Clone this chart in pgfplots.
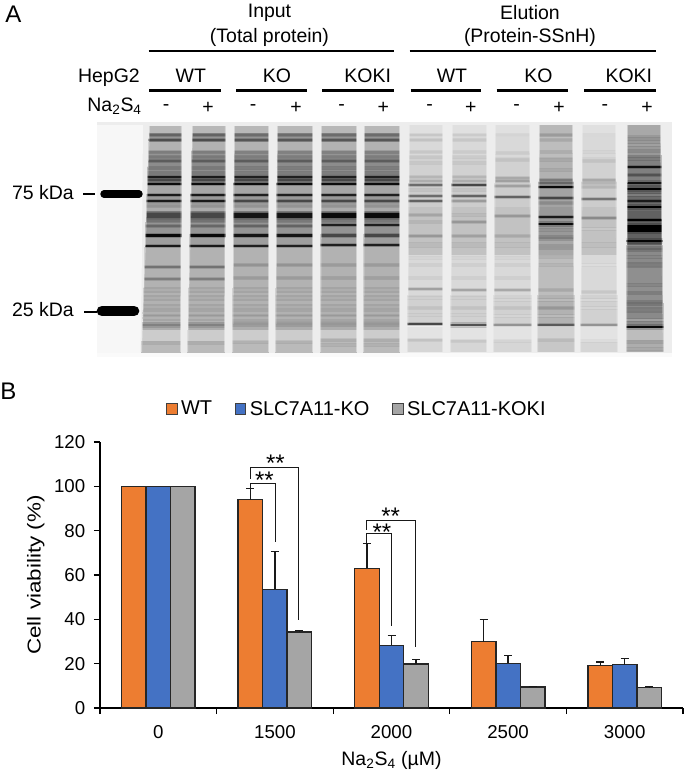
\documentclass[border=0pt]{standalone}
\usepackage{graphicx}
\usepackage{pgfplots}
\pgfplotsset{compat=1.18}
\usepackage{fontspec}
\setmainfont{Liberation Sans}
\definecolor{orgb}{HTML}{ED7D31}
\definecolor{blub}{HTML}{4472C4}
\definecolor{gryb}{HTML}{A5A5A5}
\newcommand\fs[1]{\fontsize{#1}{#1}\selectfont}
% --- lane background: lane edges at the top and at the bottom of the gel, then y/level/width
\newcommand\bgs[5]{%
 \foreach \yy/\lv/\ww in #5{%
  \pgfmathsetmacro\xl{#1+(#2-#1)*(\yy-125)/227}%
  \pgfmathsetmacro\xr{#3+(#4-#3)*(\yy-125)/227}%
  \pgfmathsetmacro\wp{\ww*0.75}%
  \edef\tmp{\noexpand\addplot[forget plot,no marks,line cap=butt,draw=black!\lv,line width=\wp pt] coordinates {(\xl,\yy)(\xr,\yy)};}\tmp
 }}
% --- bands: a soft halo and the band itself
\newcommand\bands[5]{%
 \foreach \yy/\lv/\ww in #5{%
  \pgfmathsetmacro\xl{#1+(#2-#1)*(\yy-125)/227}%
  \pgfmathsetmacro\xr{#3+(#4-#3)*(\yy-125)/227}%
  \pgfmathsetmacro\wp{\ww*0.75*0.85}%
  \pgfmathsetmacro\wh{(\ww+2.2)*0.75}%
  \pgfmathsetmacro\op{\lv/100*0.2}%
  \pgfmathsetmacro\lw{\lv<88?\lv*0.85:\lv}%
  \edef\tmp{\noexpand\addplot[forget plot,no marks,line cap=butt,draw=black,draw opacity=\op,line width=\wh pt] coordinates {(\xl,\yy)(\xr,\yy)};
   \noexpand\addplot[forget plot,no marks,line cap=butt,draw=black!\lw,line width=\wp pt] coordinates {(\xl,\yy)(\xr,\yy)};}\tmp
 }}
\newcommand\lane[6]{\bgs{#1}{#2}{#3}{#4}{#5}\bands{#1}{#2}{#3}{#4}{#6}%
 \edef\tmp{\noexpand\addplot[forget plot,no marks,line cap=butt,draw=black!7,draw opacity=0.55,line width=1.5pt] coordinates {(#1,125)(#2,352)};
 \noexpand\addplot[forget plot,no marks,line cap=butt,draw=black!7,draw opacity=0.55,line width=1.5pt] coordinates {(#3,125)(#4,352)};}\tmp}
\def\inbg{129.5/28/8,137/42/9,146/30/9,155/42/9,163/45/9,171/45/9,180/48/10,189/35/9,199/40/11,207.5/33/7,216.5/52/12,228/42/12,241/38/14,256/30/18,277/30/25,305/30/35,326/32/9,335.5/20/11,346.5/27/12}
\def\inA{135/72/1.6,140/82/1.8,152/60/1.5,157/62/1.5,161/75/1.5,168/62/1.5,173/62/1.5,177/90/2,180/85/1.5,184/95/1.8,195/90/1.8,201/90/1.8,206/50/1.5,215.5/85/5,221/65/1.5,226/70/1.5,235.5/97/3.5,246/90/2.5,267/65/1.8,279/60/1.8,290/38/3,298/38/3,307/38/3,313/36/3,318/36/3,325/58/3,343/38/2}
\def\inB{135/68/1.6,140/78/1.8,152/58/1.5,157/60/1.5,161/75/1.5,168/60/1.5,173/60/1.5,177/88/2,180/85/1.5,184/95/1.8,195/88/1.8,201/85/1.8,206/50/1.5,215.5/92/5,221/62/1.5,226/72/1.5,235.5/92/3,246/88/2.5,265/50/1.8,278/46/1.8,290/38/3,298/38/3,307/38/3,313/36/3,318/36/3,324/48/3,342/36/2}
\def\inC{135/68/1.6,140/78/1.8,152/58/1.5,157/60/1.5,161/75/1.5,168/60/1.5,173/60/1.5,177/88/2,180/85/1.5,184/95/1.8,195/88/1.8,201/85/1.8,206/50/1.5,215.5/96/5,221/62/1.5,225/88/2,235.5/85/3.5,245/88/2.5,265/46/1.8,278/44/1.8,290/38/3,298/38/3,307/38/3,313/36/3,318/36/3,324/48/3,340/38/2,345/36/2}
\def\elbgA{131/12/12,147/15/20,170/18/26,195/20/24,222/24/30,246/24/18,275/15/40,310/18/30,335/11/16,346/16/12}
\def\elbgB{131/28/12,147/26/20,170/30/26,195/36/24,222/40/30,246/34/18,275/26/40,310/30/30,335/18/16,346/22/12}
\def\elbgC{130/34/10,145/40/20,170/50/30,198/58/26,228/62/34,256/46/22,285/44/36,318/46/30,335/26/14,346/32/12}
\def\laneG{135/26/1.3,140/28/1.3,152/26/1.3,157/26/1.3,163/26/1.3,177/34/1.5,181/38/1.5,185/68/1.6,190/28/1.5,196/68/1.6,201/72/2,215/42/1.5,222/34/1.5,236/48/2.5,245/32/4,258/20/1.5,265/22/1.5,278/22/1.5,289/44/1.6,298/22/2,308/28/2,315/22/2,324/85/2.5,340/28/2}
\def\laneH{135/24/1.3,140/26/1.3,152/24/1.3,157/24/1.3,163/26/1.3,177/34/1.5,181/38/1.5,185/85/2,190/28/1.5,196/72/1.6,201/46/2,215/32/1.5,222/48/2,236/44/2.5,245/32/4,258/20/1.5,265/22/1.5,278/22/1.5,290/42/1.6,298/22/2,308/28/2,315/22/2,325/80/3,341/26/2}
\def\laneI{135/20/1.3,153/24/1.3,160/28/1.3,178/40/1.5,181/44/1.5,186/44/1.5,197/72/1.6,216/48/1.5,236/40/2.5,245/30/4,258/20/1.5,265/22/1.5,278/22/1.5,290/40/1.6,300/20/2,308/28/2,316/20/2,325/50/2,341/20/2}
\def\laneJ{135/46/1.3,140/40/1.3,152/38/1.3,160/40/1.3,170/40/1.5,180/62/1.5,183/70/1.5,187/96/2.5,198/86/2,203/54/1.5,217/90/2.5,224/96/3,230/50/1.5,238/60/3.5,247/48/3,257/36/2,265/34/2,290/40/1.6,300/32/2,308/48/2,316/32/2,325/76/2.5,340/32/2}
\def\laneK{135/18/1.2,152/20/1.2,161/28/1.3,180/40/1.5,183/34/1.5,187/34/1.5,199/64/1.6,218/54/1.5,229/26/1.5,245/30/4,265/16/1.5,292/26/1.5,300/18/2,308/20/2,325/50/2,341/16/2}
\def\laneL{139/50/1.5,145/44/1.5,151/54/1.5,159/60/1.5,167/94/2,175/80/1.5,183/94/3,189/100/3,195/60/1.5,201/90/2,207/100/3.5,220/100/2.5,228.5/100/8,241/98/3,249/70/3,257/56/2,265/60/3,285/56/2,293/60/2,303/66/3,310/60/3,320/44/2,327/96/3,342/44/2,349/40/2}
\begin{document}
\begin{tikzpicture}
\useasboundingbox (0,0) rectangle (513.75pt,579pt);
% ============ panel A, and all the free text, in the pixels of the reference
\begin{axis}[at={(0,0)},anchor=south west,scale only axis,width=513.75pt,height=579pt,
  hide axis,clip=false,xmin=0,xmax=685,ymin=0,ymax=772,y dir=reverse]
\addplot[forget plot,fill=black!7,draw=none] coordinates {(97,122)(672,122)(672,353)(97,353)} -- cycle;
\addplot[forget plot,fill=black!3,draw=none] coordinates {(97,125)(143,125)(141,353)(97,353)} -- cycle;
\addplot[forget plot,fill=black!2,draw=none] coordinates {(97,353)(672,353)(672,357)(97,357)} -- cycle;
% lanes
\lane{149}{141}{182}{181}{\inbg}{\inA}
\lane{192}{187}{226}{225}{\inbg}{\inA}
\lane{234}{232}{269}{269}{\inbg}{\inB}
\lane{277}{275}{313}{313}{\inbg}{\inB}
\lane{321}{320}{357}{357}{\inbg}{\inC}
\lane{364}{363}{400}{400}{\inbg}{\inC}
\lane{409}{407}{443}{443}{\elbgA}{\laneG}
\lane{452}{450}{487}{487}{\elbgA}{\laneH}
\lane{495}{493}{530}{532}{\elbgA}{\laneI}
\lane{539}{537}{573}{575}{\elbgB}{\laneJ}
\lane{582}{580}{616}{618}{\elbgA}{\laneK}
\lane{627}{626}{661}{664}{\elbgC}{\laneL}
% markers
\addplot[forget plot,no marks,black,line width=5.6pt,line cap=round] coordinates {(104,194)(139,194)};
\addplot[forget plot,no marks,black,line width=8pt,line cap=round] coordinates {(102,311)(134,311)};
\addplot[forget plot,no marks,black,line width=1.6pt] coordinates {(83,194)(95,194)};
\addplot[forget plot,no marks,black,line width=1.6pt] coordinates {(84,312)(97,312)};
% header rules
\addplot[forget plot,no marks,black,line width=1.7pt] coordinates {(148.5,51)(394,51)};
\addplot[forget plot,no marks,black,line width=1.7pt] coordinates {(409.6,51)(656,51)};
\addplot[forget plot,no marks,black,line width=1.7pt] coordinates {(149,90.5)(220.5,90.5)};
\addplot[forget plot,no marks,black,line width=1.7pt] coordinates {(236,90.5)(307,90.5)};
\addplot[forget plot,no marks,black,line width=1.7pt] coordinates {(322,90.5)(394,90.5)};
\addplot[forget plot,no marks,black,line width=1.7pt] coordinates {(410.5,90.5)(481,90.5)};
\addplot[forget plot,no marks,black,line width=1.7pt] coordinates {(496.5,90.5)(568,90.5)};
\addplot[forget plot,no marks,black,line width=1.7pt] coordinates {(584,90.5)(656,90.5)};
% texts
\node[anchor=west,font=\fs{18},inner sep=0pt] at (axis cs:5,14) {A};
\node[anchor=west,font=\fs{18},inner sep=0pt] at (axis cs:0,391) {B};
\node[font=\fs{14.6}] at (axis cs:269.5,13) {Input};
\node[font=\fs{14.6}] at (axis cs:269.5,37) {(Total protein)};
\node[font=\fs{14.6}] at (axis cs:530,13) {Elution};
\node[font=\fs{14.6}] at (axis cs:530,37) {(Protein-SSnH)};
\node[anchor=east,font=\fs{14.6},inner sep=0pt] at (axis cs:140,78) {HepG2};
\node[anchor=east,font=\fs{14.6},inner sep=0pt] at (axis cs:142,106) {Na\textsubscript{2}S\textsubscript{4}};
\node[font=\fs{14.6}] at (axis cs:190.8,75.5) {WT};
\node[font=\fs{14.6}] at (axis cs:277,75.5) {KO};
\node[font=\fs{14.6}] at (axis cs:367.7,75.5) {KOKI};
\node[font=\fs{14.6}] at (axis cs:452,75.5) {WT};
\node[font=\fs{14.6}] at (axis cs:538.4,75.5) {KO};
\node[font=\fs{14.6}] at (axis cs:628.8,75.5) {KOKI};
\node[font=\fs{14.6}] at (axis cs:166,108) {-};
\node[font=\fs{14.6}] at (axis cs:208,108) {+};
\node[font=\fs{14.6}] at (axis cs:253,108) {-};
\node[font=\fs{14.6}] at (axis cs:296,108) {+};
\node[font=\fs{14.6}] at (axis cs:341.5,108) {-};
\node[font=\fs{14.6}] at (axis cs:383.4,108) {+};
\node[font=\fs{14.6}] at (axis cs:429.7,108) {-};
\node[font=\fs{14.6}] at (axis cs:470.7,108) {+};
\node[font=\fs{14.6}] at (axis cs:516.6,108) {-};
\node[font=\fs{14.6}] at (axis cs:559,108) {+};
\node[font=\fs{14.6}] at (axis cs:604.8,108) {-};
\node[font=\fs{14.6}] at (axis cs:647,108) {+};
\node[anchor=east,font=\fs{14.6},inner sep=0pt] at (axis cs:74,193) {75 kDa};
\node[anchor=east,font=\fs{14.6},inner sep=0pt] at (axis cs:74,310) {25 kDa};
\end{axis}
% ============ panel B
\begin{axis}[at={(75pt,48pt)},anchor=south west,scale only axis,width=437.25pt,height=199.5pt,
  ybar=0pt,bar width=18.4pt,clip=false,
  xmin=-0.5,xmax=4.5,ymin=0,ymax=120,
  axis x line=bottom,axis y line=left,axis line style={-,black,line width=1pt},
  xtick={0,1,2,3,4},xticklabels={0,1500,2000,2500,3000},
  minor xtick={-0.5,0.5,1.5,2.5,3.5,4.5},
  ytick={0,20,...,120},
  major x tick style={draw=none},
  minor x tick style={black,line width=1pt},
  y tick style={black,line width=1pt},
  major tick length=4.6pt,minor tick length=4.6pt,
  tick align=outside,
  /pgf/number format/assume math mode=true,
  /pgf/number format/.cd,set thousands separator={},/tikz/.cd,
  tick label style={font=\fs{14}},
  xticklabel style={yshift=-5pt},
  yticklabel style={xshift=-3pt},
  xlabel style={font=\fs{14.6},at={(axis description cs:0.5,-0.197)},anchor=center},
  xlabel={Na\textsubscript{2}S\textsubscript{4} (µM)},
  ylabel style={font=\fs{14},at={(axis description cs:-0.11,0.5)},anchor=center,rotate=0},
  ylabel={\scalebox{1.2}[1]{Cell viability (\%)}},
  legend columns=3,
  legend style={at={(0.113,1.124)},anchor=west,draw=none,fill=none,inner sep=0pt,
     font=\fs{15},/tikz/every even column/.append style={column sep=0pt},
     /tikz/every odd column/.append style={column sep=0pt}},
  legend image code/.code={\draw[#1,draw=black!75,line width=0.9pt] (0cm,-3.9pt) rectangle (7.8pt,3.9pt);},
  error bars/error bar style={black!90,line width=1pt},
  error bars/error mark options={rotate=90,mark size=3pt,line width=1.1pt,black!90},
]
\addplot+[ybar,fill=orgb,draw=black!85,line width=1.05pt,mark=none,
  error bars/.cd,y dir=plus,y explicit]
  coordinates {(0,100)(1,94) +- (0,5)(2,63) +- (0,11.3)(3,30) +- (0,10)(4,19.3) +- (0,1.5)};
\addplot+[ybar,fill=blub,draw=black!85,line width=1.05pt,mark=none,
  error bars/.cd,y dir=plus,y explicit]
  coordinates {(0,100)(1,53.5) +- (0,17)(2,28.3) +- (0,4.5)(3,20.2) +- (0,3.4)(4,19.6) +- (0,2.8)};
\addplot+[ybar,fill=gryb,draw=black!85,line width=1.05pt,mark=none,
  error bars/.cd,y dir=plus,y explicit]
  coordinates {(0,100)(1,34.3) +- (0,0.6)(2,19.8) +- (0,2)(3,9.5) +- (0,0.3)(4,9.3) +- (0,0.3)};
\legend{\hspace{0.5pt}WT\rule{15pt}{0pt},\hspace{0.5pt}SLC7A11-KO\rule{15pt}{0pt},\hspace{0.5pt}SLC7A11-KOKI}
% significance brackets
\addplot[forget plot,no marks,sharp plot,black!90,line width=1pt] coordinates {(0.79,99)(0.79,101.2)(1.003,101.2)(1.003,75)};
\addplot[forget plot,no marks,sharp plot,black!90,line width=1pt] coordinates {(0.79,103.5)(0.79,108.4)(1.205,108.4)(1.205,39.7)};
\addplot[forget plot,no marks,sharp plot,black!90,line width=1pt] coordinates {(1.786,74.2)(1.786,78.7)(2.0,78.7)(2.0,37)};
\addplot[forget plot,no marks,sharp plot,black!90,line width=1pt] coordinates {(1.786,80.5)(1.786,84.7)(2.205,84.7)(2.205,27.3)};
\node[font=\fs{18},inner sep=0pt] at (axis cs:0.91,102.8) {**};
\node[font=\fs{18},inner sep=0pt] at (axis cs:1.004,110.2) {**};
\node[font=\fs{18},inner sep=0pt] at (axis cs:1.918,79.3) {**};
\node[font=\fs{18},inner sep=0pt] at (axis cs:1.993,86.5) {**};
\end{axis}
\end{tikzpicture}
\end{document}
